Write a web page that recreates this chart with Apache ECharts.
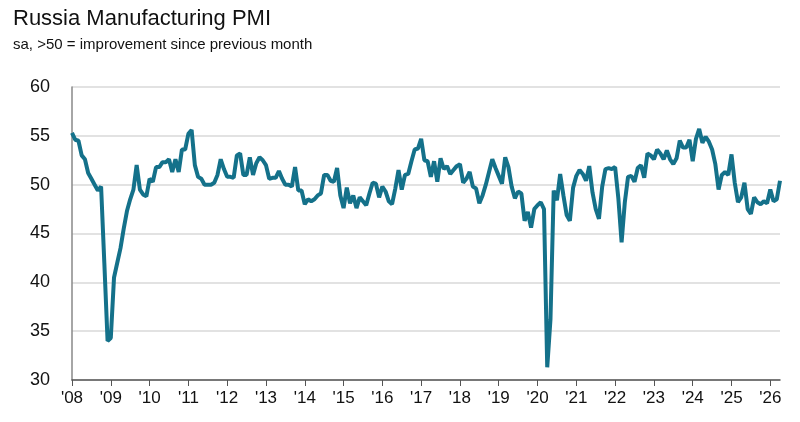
<!DOCTYPE html>
<html><head><meta charset="utf-8">
<script src="https://cdn.jsdelivr.net/npm/echarts@6/dist/echarts.min.js"></script>
<style>html,body{margin:0;padding:0;background:#fff}#c{width:800px;height:422px}</style>
</head><body><div id="c"></div>
<script>
const startYear = 2008;
const pmi2008 = [55.3,54.6,54.5,53.0,52.6,51.2,50.6,50.0,49.4,49.8,42.0,34.0];
const pmi2009 = [34.3,40.5,42.0,43.5,45.5,47.3,48.5,49.5,52.0,49.5,49.0,48.8];
const pmi2010 = [50.6,50.3,51.8,51.8,52.3,52.3,52.6,51.3,52.6,51.3,53.6,53.6];
const pmi2011 = [55.2,55.6,52.0,50.8,50.6,50.0,50.0,50.0,50.2,51.0,52.6,51.6];
const pmi2012 = [50.8,50.8,50.7,53.0,53.2,51.0,51.0,52.8,51.0,52.2,52.8,52.5];
const pmi2013 = [52.0,50.6,50.7,50.7,51.4,50.6,50.0,50.0,49.8,51.8,49.4,49.4];
const pmi2014 = [48.0,48.5,48.3,48.5,48.9,49.1,51.0,51.0,50.4,50.3,51.7,48.9];
const pmi2015 = [47.6,49.7,48.1,48.9,47.6,48.7,48.3,47.9,49.1,50.2,50.1,48.7];
const pmi2016 = [49.8,49.3,48.3,48.0,49.6,51.5,49.5,51.0,51.1,52.4,53.6,53.7];
const pmi2017 = [54.7,52.5,52.4,50.8,52.4,50.3,52.7,51.6,51.9,51.1,51.5,51.9];
const pmi2018 = [52.1,50.2,50.6,51.3,49.8,49.6,48.1,48.9,50.0,51.3,52.6,51.7];
const pmi2019 = [50.9,50.1,52.8,51.8,49.8,48.6,49.3,49.1,46.3,47.2,45.6,47.5];
const pmi2020 = [47.9,48.2,47.5,31.3,36.2,49.4,48.4,51.1,48.9,46.9,46.3,49.7];
const pmi2021 = [50.9,51.5,51.1,50.4,51.9,49.2,47.5,46.5,49.8,51.6,51.7,51.6];
const pmi2022 = [51.8,48.6,44.1,48.2,50.8,50.9,50.3,51.7,52.0,50.7,53.2,53.0];
const pmi2023 = [52.6,53.6,53.2,52.6,53.5,52.6,52.1,52.7,54.5,53.8,53.8,54.6];
const pmi2024 = [52.4,54.7,55.7,54.3,54.9,54.4,53.6,52.1,49.5,51.0,51.3,51.0];
const pmi2025 = [53.1,50.2,48.2,48.7,50.2,47.5,47.0,48.7,48.2,48.0,48.3,48.1];
const pmi2026 = [49.5,48.3,48.5,50.4];
const values = [].concat(pmi2008,pmi2009,pmi2010,pmi2011,pmi2012,pmi2013,pmi2014,pmi2015,pmi2016,pmi2017,pmi2018,pmi2019,pmi2020,pmi2021,pmi2022,pmi2023,pmi2024,pmi2025,pmi2026);
const months = values.map((v,i)=>{const y=startYear+Math.floor(i/12);return "'"+String(y%100).padStart(2,'0');});
const chart = echarts.init(document.getElementById('c'));
const font = 'Liberation Sans, Arial, sans-serif';
chart.setOption({
  animation:false,
  title:{text:'Russia Manufacturing PMI',subtext:'sa, >50 = improvement since previous month',left:8,top:3,itemGap:7,
    textStyle:{fontFamily:font,fontSize:22,fontWeight:'normal',color:'#111'},
    subtextStyle:{fontFamily:font,fontSize:15,color:'#111'}},
  grid:{left:72,right:20,top:87,bottom:42},
  xAxis:{type:'category',data:months,boundaryGap:false,
    axisLine:{lineStyle:{color:'#555',width:1.5}},
    axisTick:{interval:(i)=>i%12===0,length:6,lineStyle:{color:'#555'}},
    axisLabel:{interval:(i)=>i%12===0,fontFamily:font,fontSize:17,color:'#111',margin:10},
    splitLine:{show:false}},
  yAxis:{type:'value',min:30,max:60,interval:5,
    axisLine:{show:true,lineStyle:{color:'#888',width:1.5}},
    axisTick:{show:false},
    axisLabel:{fontFamily:font,fontSize:18,color:'#111',margin:22},
    splitLine:{lineStyle:{color:'#d9d9d9',width:1.5}}},
  series:[{type:'line',data:values,symbol:'none',lineStyle:{color:'#14718a',width:4}}]
});
</script></body></html>
